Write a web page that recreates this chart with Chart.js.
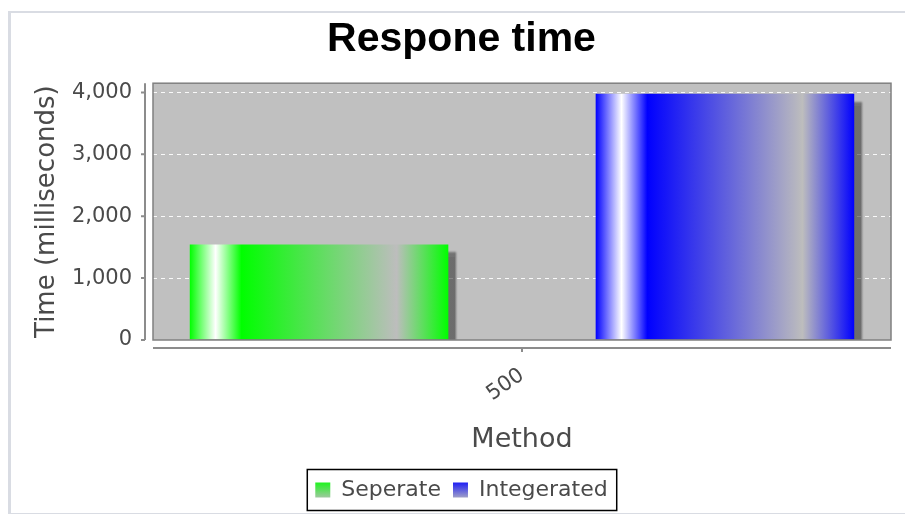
<!DOCTYPE html>
<html>
<head>
<meta charset="utf-8">
<title>Respone time</title>
<script src="https://cdn.jsdelivr.net/npm/chart.js@4.4.1/dist/chart.umd.min.js"></script>
<style>
  html, body { margin: 0; padding: 0; background: #fff; }
  #frame {
    position: absolute; left: 8px; top: 11px; width: 905px; height: 500px;
    border-left: 3px solid #d9dce3; border-top: 2px solid #d9dce3; border-bottom: 2px solid #d9dce3;
  }
  #wrap { position: absolute; left: 0; top: 0; width: 905px; height: 514px; }
</style>
</head>
<body>
<div id="frame"></div>
<div id="wrap"><canvas id="chart" width="905" height="514"></canvas></div>
<script>
// chart data
const categories = ['500'];
const seriesNames = ['Seperate', 'Integerated'];
const seperateValues = [1545];
const integeratedValues = [3980];
const yTickValues = [0, 1000, 2000, 3000, 4000];
const yMax = 4150;

const seriesColors = ['#00ff00', '#0000ff'];
const fadeGrey = '#bdbdbd';
const textGrey = '#4a4a4a';

// plot background, gradient bars with drop shadow, offset axes, legend frame
const plotPainter = {
    id: 'plotPainter',
    beforeDraw(chart) {
        const { ctx, chartArea: a } = chart;
        ctx.save();
        ctx.fillStyle = '#c0c0c0';
        ctx.fillRect(a.left, a.top, a.right - a.left, a.bottom - a.top);
        ctx.restore();

        // legend swatches fade downwards
        const lg = chart.legend;
        if (lg && lg.legendHitBoxes) {
            lg.legendItems.forEach((item, i) => {
                const hb = lg.legendHitBoxes[i];
                const g = ctx.createLinearGradient(0, hb.top, 0, hb.top + hb.height);
                g.addColorStop(0, seriesColors[i]);
                g.addColorStop(1, fadeGrey);
                item.fillStyle = g;
            });
        }
    },
    beforeDatasetsDraw(chart) {
        const ctx = chart.ctx;
        chart.data.datasets.forEach((ds, i) => {
            chart.getDatasetMeta(i).data.forEach(bar => {
                const left = bar.x - bar.width / 2;
                const right = bar.x + bar.width / 2;
                const g = ctx.createLinearGradient(left, 0, right, 0);
                g.addColorStop(0, seriesColors[i]);
                g.addColorStop(0.1, '#ffffff');
                g.addColorStop(0.2, seriesColors[i]);
                g.addColorStop(0.8, fadeGrey);
                g.addColorStop(1, seriesColors[i]);
                bar.options.backgroundColor = g;
            });
        });
        ctx.save();
        ctx.shadowColor = 'rgba(40,40,40,0.55)';
        ctx.shadowOffsetX = 8;
        ctx.shadowOffsetY = 8;
        ctx.shadowBlur = 2;
    },
    afterDatasetsDraw(chart) {
        const { ctx, chartArea: a, scales } = chart;
        ctx.restore();
        ctx.save();
        ctx.strokeStyle = '#808080';
        ctx.lineWidth = 1.5;
        ctx.strokeRect(a.left, a.top, a.right - a.left, a.bottom - a.top);

        ctx.strokeStyle = '#8c8c8c';
        ctx.lineWidth = 2;
        const ax = a.left - 8;
        ctx.beginPath();
        ctx.moveTo(ax, a.top);
        ctx.lineTo(ax, a.bottom);
        yTickValues.forEach(v => {
            const y = scales.y.getPixelForValue(v);
            ctx.moveTo(ax - 4, y);
            ctx.lineTo(ax, y);
        });
        const ay = a.bottom + 8;
        ctx.moveTo(a.left, ay);
        ctx.lineTo(a.right, ay);
        categories.forEach((c, i) => {
            const x = scales.x.getPixelForValue(i);
            ctx.moveTo(x, ay);
            ctx.lineTo(x, ay + 4);
        });
        ctx.stroke();
        ctx.restore();
    },
    afterDraw(chart) {
        const lg = chart.legend;
        if (!lg || !lg.legendHitBoxes.length) return;
        const hbs = lg.legendHitBoxes;
        const left = Math.min(...hbs.map(h => h.left)) - 8;
        const right = Math.max(...hbs.map(h => h.left + h.width)) + 9;
        const top = Math.min(...hbs.map(h => h.top));
        const bottom = Math.max(...hbs.map(h => h.top + h.height));
        const midY = (top + bottom) / 2;
        const ctx = chart.ctx;
        ctx.save();
        ctx.strokeStyle = '#000';
        ctx.lineWidth = 1.5;
        ctx.strokeRect(left, midY - 20.5, right - left, 41);
        ctx.restore();
    }
};

new Chart(document.getElementById('chart'), {
    type: 'bar',
    data: {
        labels: categories,
        datasets: [
            { label: seriesNames[0], data: seperateValues },
            { label: seriesNames[1], data: integeratedValues }
        ]
    },
    options: {
        responsive: false,
        animation: false,
        events: [],
        categoryPercentage: 1.1,
        barPercentage: 0.637,
        backgroundColor: ctx => seriesColors[ctx.datasetIndex],
        borderWidth: 0,
        layout: { padding: { top: 12, right: 14, bottom: 3, left: 32 } },
        scales: {
            x: {
                grid: { display: false, drawTicks: false },
                border: { display: false },
                ticks: {
                    minRotation: 35, maxRotation: 35, padding: 23,
                    color: textGrey, font: { family: 'DejaVu Sans', size: 21 }
                },
                title: {
                    display: true, text: 'Method', color: textGrey,
                    font: { family: 'DejaVu Sans', size: 27 },
                    padding: { top: 0, bottom: 11 }
                },
                afterFit(scale) { scale.height = 127; }
            },
            y: {
                min: 0,
                max: yMax,
                grid: { color: 'rgba(255,255,255,0.9)', lineWidth: 1, drawTicks: false },
                border: { display: false, dash: [4, 4] },
                afterBuildTicks(scale) {
                    scale.ticks = yTickValues.map(v => ({ value: v }));
                },
                ticks: {
                    padding: 21,
                    color: textGrey, font: { family: 'DejaVu Sans', size: 21 },
                    callback: v => v.toLocaleString('en-US')
                },
                title: {
                    display: true, text: 'Time (milliseconds)', color: textGrey,
                    font: { family: 'DejaVu Sans', size: 26 },
                    padding: { top: 0, bottom: 0 }
                },
                afterFit(scale) { scale.width = 121; }
            }
        },
        plugins: {
            title: {
                display: true,
                text: 'Respone time',
                color: '#000',
                font: { family: 'Liberation Sans', size: 41, weight: 'bold' },
                padding: { top: 3, bottom: 19 }
            },
            legend: {
                position: 'bottom',
                labels: {
                    boxWidth: 15, boxHeight: 15, padding: 12,
                    color: textGrey, font: { family: 'DejaVu Sans', size: 22 }
                }
            },
            tooltip: { enabled: false }
        }
    },
    plugins: [plotPainter]
});
</script>
</body>
</html>
